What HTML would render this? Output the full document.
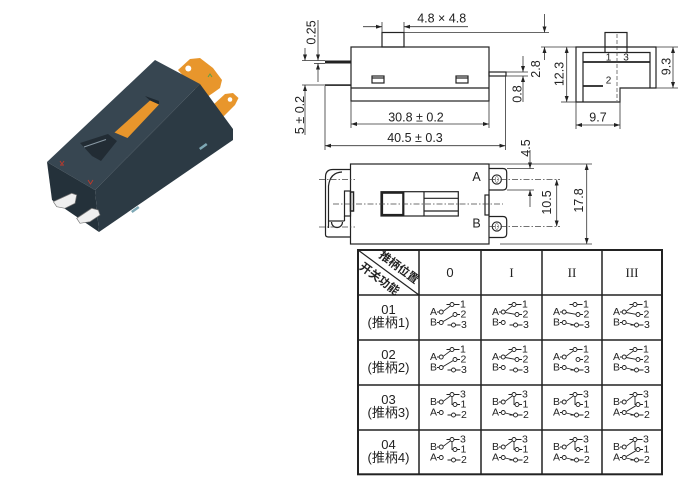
<!DOCTYPE html>
<html><head><meta charset="utf-8">
<style>
html,body{margin:0;padding:0;background:#fff;}
svg{display:block;}
text{font-family:"Liberation Sans","Noto Sans CJK SC",sans-serif;fill:#222;}
.dim{fill:none;stroke:#333;stroke-width:0.8;}
.ol{fill:none;stroke:#222;stroke-width:1.2;}
.dd{fill:none;stroke:#444;stroke-width:0.7;stroke-dasharray:6 2 1.5 2;}
.c text{font-size:10.5px;dominant-baseline:central;}
.c circle{fill:#fff;stroke:#222;stroke-width:0.9;}
.c path{fill:none;stroke:#222;stroke-width:0.9;}
</style></head><body>
<svg width="692" height="482" viewBox="0 0 692 482" xmlns="http://www.w3.org/2000/svg">
<defs>
<marker id="ar" viewBox="0 0 6 4" refX="6" refY="2" markerWidth="6" markerHeight="4" markerUnits="userSpaceOnUse" orient="auto-start-reverse"><path d="M0,0L6,2L0,4z" fill="#222"/></marker>
</defs>
<rect width="692" height="482" fill="#fff"/>

<!-- ===== 3D component ===== -->
<path d="M178,70 L190,59 L200,58 L213,68 L222,80 L220,88 L213,93 L207,97 L196,90Z" fill="#e8962c"/>
<circle cx="188.3" cy="68.5" r="3" fill="#fff"/>
<path d="M213,105 L225,94 L233,93 L238.5,98 L235,105 L227,113 L222,118Z" fill="#e8962c"/>
<circle cx="230" cy="99.5" r="2.3" fill="#fff"/>
<path d="M208,77 l2,-3 l2,3" stroke="#5aa04a" stroke-width="1" fill="none"/>
<polygon points="155,60 200,84 95,190 47,162" fill="#374651"/>
<polygon points="200,84 233,129 233,140 99,232 95,190" fill="#2c3a44"/>
<polygon points="47,162 95,190 99,232 52,200" fill="#24313a"/>
<polygon points="145,96 159,101 159,104.5 150,100.5" fill="#1e2830"/>
<polygon points="150,100.5 159,104.5 127.5,138 114.5,132.5" fill="#e8962c"/>
<polygon points="80,143 108,134 117,141 101,161 92,156" fill="#222c34"/>
<line x1="84" y1="147" x2="106" y2="139.5" stroke="#8a9aa5" stroke-width="1"/>
<polygon points="199,148 206,143 207.5,145 200.5,150" fill="#7ea8b5"/>
<polygon points="131,211 138,206 139.5,208 132.5,213" fill="#7ea8b5"/>
<path d="M60,161 l2,3 l2,-3 M60,165 h4" stroke="#c0392b" stroke-width="0.9" fill="none"/>
<path d="M88,180 l2.5,4 l2.5,-4" stroke="#c0392b" stroke-width="0.9" fill="none"/>
<polygon points="53.3,201.7 71.7,193.3 76.7,195 75,203.3 65,208.3 56.7,206.7" fill="#efefef" stroke="#777" stroke-width="0.7"/>
<polygon points="76.7,218.3 91.7,208.3 98.3,210 100,215 90,221.7 80,223.3" fill="#efefef" stroke="#777" stroke-width="0.7"/>

<!-- ===== Front elevation ===== -->
<g class="ol">
<rect x="351" y="47" width="138" height="54"/>
<line x1="351" y1="88" x2="489" y2="88"/>
<rect x="382" y="32.5" width="22" height="14.5"/>
<rect x="372" y="76" width="12" height="7"/>
<rect x="456" y="76" width="12" height="7"/>
<rect x="489" y="72" width="17" height="4"/>
</g>
<line x1="372" y1="78" x2="384" y2="78" stroke="#222" stroke-width="1.2"/>
<line x1="456" y1="78" x2="468" y2="78" stroke="#222" stroke-width="1.2"/>
<rect x="325" y="60.5" width="26" height="3" fill="#222"/>
<rect x="325" y="84.3" width="26" height="1.6" fill="#222"/>

<g class="dim">
<line x1="382" y1="22" x2="382" y2="32.5"/><line x1="404" y1="22" x2="404" y2="32.5"/>
<line x1="363" y1="26.7" x2="382" y2="26.7" marker-end="url(#ar)"/>
<line x1="468" y1="26.7" x2="404" y2="26.7" marker-end="url(#ar)"/>
<line x1="404" y1="32.5" x2="549" y2="32.5"/>
<line x1="544.5" y1="14" x2="544.5" y2="32.5" marker-end="url(#ar)"/>
<line x1="544.5" y1="60" x2="544.5" y2="47" marker-end="url(#ar)"/>
<line x1="541" y1="47" x2="576" y2="47"/>
<line x1="506" y1="72" x2="528" y2="72"/><line x1="506" y1="76" x2="528" y2="76"/>
<line x1="523" y1="56" x2="523" y2="72" marker-end="url(#ar)"/>
<line x1="523" y1="102" x2="523" y2="76" marker-end="url(#ar)"/>
<line x1="302" y1="60.5" x2="325" y2="60.5"/><line x1="314" y1="63.5" x2="325" y2="63.5"/>
<line x1="318" y1="20" x2="318" y2="60.5" marker-end="url(#ar)"/>
<line x1="318" y1="82" x2="318" y2="63.5" marker-end="url(#ar)"/>
<line x1="302" y1="85" x2="325" y2="85"/>
<line x1="305" y1="48" x2="305" y2="60.5" marker-end="url(#ar)"/>
<line x1="305" y1="135" x2="305" y2="85" marker-end="url(#ar)"/>
<line x1="351" y1="101" x2="351" y2="128"/><line x1="489" y1="101" x2="489" y2="128"/>
<line x1="351" y1="124" x2="489" y2="124" marker-start="url(#ar)" marker-end="url(#ar)"/>
<line x1="325" y1="86" x2="325" y2="150"/><line x1="505.5" y1="76" x2="505.5" y2="150"/>
<line x1="325" y1="145.7" x2="505.5" y2="145.7" marker-start="url(#ar)" marker-end="url(#ar)"/>
</g>
<g font-size="12.5">
<text x="441.7" y="22.5" text-anchor="middle">4.8 × 4.8</text>
<text transform="translate(311.5,32.5) rotate(-90)" text-anchor="middle" dominant-baseline="central">0.25</text>
<text transform="translate(300,115) rotate(-90)" text-anchor="middle" dominant-baseline="central">5 ± 0.2</text>
<text x="416" y="121.5" text-anchor="middle">30.8 ± 0.2</text>
<text x="415" y="142" text-anchor="middle">40.5 ± 0.3</text>
<text transform="translate(536,69) rotate(-90)" text-anchor="middle" dominant-baseline="central">2.8</text>
<text transform="translate(517.5,94) rotate(-90)" text-anchor="middle" dominant-baseline="central">0.8</text>
</g>

<!-- ===== Side view ===== -->
<g class="ol">
<rect x="605" y="32.5" width="22" height="14.5"/>
<path d="M576,47H656V88H620V102H576Z"/>
<path d="M583,102V52.5H650V88"/>
<line x1="605" y1="47" x2="605" y2="52.5"/><line x1="627" y1="47" x2="627" y2="52.5"/>
</g>
<line x1="583" y1="62" x2="650" y2="62" stroke="#222" stroke-width="1.8"/>
<line x1="583" y1="86" x2="603" y2="86" stroke="#222" stroke-width="1.8"/>
<line x1="617" y1="34" x2="617" y2="101" stroke="#444" stroke-width="0.7" stroke-dasharray="4 2"/>
<g font-size="10">
<text x="608.5" y="58" text-anchor="middle" dominant-baseline="central">1</text>
<text x="626" y="58" text-anchor="middle" dominant-baseline="central">3</text>
<text x="608.5" y="81" text-anchor="middle" dominant-baseline="central">2</text>
</g>
<g class="dim">
<line x1="561" y1="102" x2="576" y2="102"/>
<line x1="566.7" y1="47" x2="566.7" y2="102" marker-start="url(#ar)" marker-end="url(#ar)"/>
<line x1="656" y1="47" x2="678" y2="47"/><line x1="656" y1="88" x2="678" y2="88"/>
<line x1="673" y1="47" x2="673" y2="88" marker-start="url(#ar)" marker-end="url(#ar)"/>
<line x1="576" y1="102" x2="576" y2="129"/><line x1="620" y1="88" x2="620" y2="129"/>
<line x1="576" y1="125" x2="620" y2="125" marker-start="url(#ar)" marker-end="url(#ar)"/>
</g>
<g font-size="12.5">
<text transform="translate(559.5,74) rotate(-90)" text-anchor="middle" dominant-baseline="central">12.3</text>
<text transform="translate(666.5,66.5) rotate(-90)" text-anchor="middle" dominant-baseline="central">9.3</text>
<text x="598" y="121.5" text-anchor="middle">9.7</text>
</g>

<!-- ===== Bottom view ===== -->
<g class="ol">
<rect x="350.5" y="164" width="138.5" height="80"/>
<path d="M350.5,169.5H333Q325.5,169.5 325.5,177V234.5Q325.5,237 328.5,237H350.5"/>
<path d="M328.5,228V186Q330,172.5 342,172"/>
<rect x="344.5" y="191" width="6" height="25"/>
<line x1="344.5" y1="216" x2="344.5" y2="221"/>
<line x1="328.5" y1="221" x2="344.5" y2="221"/>
<path d="M331.5,222A5.5,5.5 0 1 0 342.5,222"/>
<path d="M489,168.5H503Q506.7,168.5 506.7,172.5V186Q506.7,190 503,190H489"/>
<path d="M489,216.5H503Q506.7,216.5 506.7,220.5V233.5Q506.7,237.5 503,237.5H489"/>
<rect x="485" y="195" width="4" height="20"/>
<rect x="381" y="191.7" width="77.3" height="24.3"/>
<line x1="424" y1="191.7" x2="424" y2="216"/>
<line x1="424" y1="198.3" x2="458.3" y2="198.3"/>
<line x1="424" y1="211" x2="458.3" y2="211"/>
</g>
<rect x="350.5" y="192" width="3" height="19" fill="none" stroke="#222" stroke-width="1.5"/>
<rect x="382" y="192.7" width="21.3" height="22.3" fill="none" stroke="#222" stroke-width="2.2"/>
<ellipse cx="496.8" cy="179.5" rx="4.6" ry="4.6" fill="none" stroke="#222" stroke-width="1.1"/>
<ellipse cx="496.8" cy="179.5" rx="1.5" ry="3" fill="none" stroke="#555" stroke-width="0.6"/>
<ellipse cx="496.8" cy="226.5" rx="4.6" ry="4.6" fill="none" stroke="#222" stroke-width="1.1"/>
<ellipse cx="496.8" cy="226.5" rx="1.5" ry="3" fill="none" stroke="#555" stroke-width="0.6"/>
<g class="dd">
<line x1="319" y1="179.5" x2="355" y2="179.5"/>
<line x1="319" y1="227" x2="355" y2="227"/>
<line x1="333" y1="204" x2="503" y2="204"/>
<line x1="489" y1="179.5" x2="560" y2="179.5"/>
<line x1="489" y1="226.5" x2="560" y2="226.5"/>
</g>
<g class="dim">
<line x1="507" y1="168.5" x2="534" y2="168.5"/><line x1="507" y1="190" x2="534" y2="190"/>
<line x1="530" y1="150" x2="530" y2="168.5" marker-end="url(#ar)"/>
<line x1="530" y1="207" x2="530" y2="190" marker-end="url(#ar)"/>
<line x1="556.7" y1="179.5" x2="556.7" y2="226.5" marker-start="url(#ar)" marker-end="url(#ar)"/>
<line x1="489" y1="164" x2="592" y2="164"/><line x1="500" y1="244" x2="592" y2="244"/>
<line x1="586.7" y1="164" x2="586.7" y2="244" marker-start="url(#ar)" marker-end="url(#ar)"/>
</g>
<g font-size="12.5">
<text x="476.5" y="177" text-anchor="middle" dominant-baseline="central">A</text>
<text x="476.5" y="223.5" text-anchor="middle" dominant-baseline="central">B</text>
<text transform="translate(526,148) rotate(-90)" text-anchor="middle" dominant-baseline="central">4.5</text>
<text transform="translate(547,202.5) rotate(-90)" text-anchor="middle" dominant-baseline="central">10.5</text>
<text transform="translate(579,200.5) rotate(-90)" text-anchor="middle" dominant-baseline="central">17.8</text>
</g>

<!-- ===== Table ===== -->
<g stroke="#222" fill="none">
<rect x="358" y="250" width="304" height="224.3" stroke-width="2"/>
<g stroke-width="1.5">
<line x1="419" y1="250" x2="419" y2="474.3"/>
<line x1="481" y1="250" x2="481" y2="474.3"/>
<line x1="542" y1="250" x2="542" y2="474.3"/>
<line x1="602" y1="250" x2="602" y2="474.3"/>
<line x1="358" y1="295" x2="662" y2="295"/>
<line x1="358" y1="340" x2="662" y2="340"/>
<line x1="358" y1="385" x2="662" y2="385"/>
<line x1="358" y1="430" x2="662" y2="430"/>
</g>
<line x1="358" y1="250" x2="419" y2="295" stroke-width="1.2"/>
</g>
<text transform="translate(398.5,268) rotate(36.4)" text-anchor="middle" dominant-baseline="central" font-size="11.5" font-weight="bold">推柄位置</text>
<text transform="translate(379,279.5) rotate(36.4)" text-anchor="middle" dominant-baseline="central" font-size="11.5" font-weight="bold">开关功能</text>
<g font-size="13" text-anchor="middle" dominant-baseline="central">
<text x="450" y="272.5">0</text>
<text x="511.5" y="272.5" style="font-family:'Liberation Serif',serif">I</text>
<text x="572" y="272.5" style="font-family:'Liberation Serif',serif">II</text>
<text x="632" y="272.5" style="font-family:'Liberation Serif',serif">III</text>
</g>
<g font-size="13" text-anchor="middle" dominant-baseline="central">
<text x="388.5" y="309.5">01</text><text x="388.5" y="322.5">(推柄1)</text>
<text x="388.5" y="354.5">02</text><text x="388.5" y="367.5">(推柄2)</text>
<text x="388.5" y="399.5">03</text><text x="388.5" y="412.5">(推柄3)</text>
<text x="388.5" y="444.5">04</text><text x="388.5" y="457.5">(推柄4)</text>
</g>

<!-- cells rows 01 -->
<g class="c" transform="translate(419,295)">
<text x="11" y="17">A</text><text x="11" y="27.5">B</text><text x="41" y="9.5">1</text><text x="41.5" y="19.5">2</text><text x="42" y="30">3</text>
<path d="M18,17h2.3M18,27.5h2.3M27.5,9.5h3.5M35,9.5H40.5M38,19.5H41M28.5,30h4M36.5,30H41.5M24.2,16.3L31.5,10.8M24.2,26.5L34.3,20.5"/>
<circle cx="22.2" cy="17" r="2"/><circle cx="22.2" cy="27.5" r="2"/><circle cx="33" cy="9.5" r="2"/><circle cx="36" cy="19.5" r="2"/><circle cx="34.5" cy="30" r="2"/>
</g>
<g class="c" transform="translate(481,295)">
<text x="11" y="17">A</text><text x="11" y="27.5">B</text><text x="41" y="9.5">1</text><text x="41.5" y="19.5">2</text><text x="42" y="30">3</text>
<path d="M18,17h2.3M18,27.5h2.3M27.5,9.5h3.5M35,9.5H40.5M38,19.5H41M28.5,30h4M36.5,30H41.5M24.2,16.3L31.5,10.8M24.2,17.5L34,19.3"/>
<circle cx="22.2" cy="17" r="2"/><circle cx="22.2" cy="27.5" r="2"/><circle cx="33" cy="9.5" r="2"/><circle cx="36" cy="19.5" r="2"/><circle cx="34.5" cy="30" r="2"/>
</g>
<g class="c" transform="translate(542,295)">
<text x="11" y="17">A</text><text x="11" y="27.5">B</text><text x="41" y="9.5">1</text><text x="41.5" y="19.5">2</text><text x="42" y="30">3</text>
<path d="M18,17h2.3M18,27.5h2.3M27.5,9.5h3.5M35,9.5H40.5M38,19.5H41M28.5,30h4M36.5,30H41.5M24.2,17.5L34,19.3M24.2,28L32.5,30"/>
<circle cx="22.2" cy="17" r="2"/><circle cx="22.2" cy="27.5" r="2"/><circle cx="33" cy="9.5" r="2"/><circle cx="36" cy="19.5" r="2"/><circle cx="34.5" cy="30" r="2"/>
</g>
<g class="c" transform="translate(602,295)">
<text x="11" y="17">A</text><text x="11" y="27.5">B</text><text x="41" y="9.5">1</text><text x="41.5" y="19.5">2</text><text x="42" y="30">3</text>
<path d="M18,17h2.3M18,27.5h2.3M27.5,9.5h3.5M35,9.5H40.5M38,19.5H41M28.5,30h4M36.5,30H41.5M24.2,16.3L31.5,10.8M24.2,17.5L34,19.3M24.2,28L32.5,30"/>
<circle cx="22.2" cy="17" r="2"/><circle cx="22.2" cy="27.5" r="2"/><circle cx="33" cy="9.5" r="2"/><circle cx="36" cy="19.5" r="2"/><circle cx="34.5" cy="30" r="2"/>
</g>

<!-- cells rows 02 -->
<g class="c" transform="translate(419,340)">
<text x="11" y="17">A</text><text x="11" y="27.5">B</text><text x="41" y="9.5">1</text><text x="41.5" y="19.5">2</text><text x="42" y="30">3</text>
<path d="M18,17h2.3M18,27.5h2.3M27.5,9.5h3.5M35,9.5H40.5M38,19.5H41M28.5,30h4M36.5,30H41.5M24.2,16.3L31.5,10.8M24.2,26.5L34.3,20.5"/>
<circle cx="22.2" cy="17" r="2"/><circle cx="22.2" cy="27.5" r="2"/><circle cx="33" cy="9.5" r="2"/><circle cx="36" cy="19.5" r="2"/><circle cx="34.5" cy="30" r="2"/>
</g>
<g class="c" transform="translate(481,340)">
<text x="11" y="17">A</text><text x="11" y="27.5">B</text><text x="41" y="9.5">1</text><text x="41.5" y="19.5">2</text><text x="42" y="30">3</text>
<path d="M18,17h2.3M18,27.5h2.3M27.5,9.5h3.5M35,9.5H40.5M38,19.5H41M28.5,30h4M36.5,30H41.5M24.2,16.3L31.5,10.8M24.2,17.5L34,19.3"/>
<circle cx="22.2" cy="17" r="2"/><circle cx="22.2" cy="27.5" r="2"/><circle cx="33" cy="9.5" r="2"/><circle cx="36" cy="19.5" r="2"/><circle cx="34.5" cy="30" r="2"/>
</g>
<g class="c" transform="translate(542,340)">
<text x="11" y="17">A</text><text x="11" y="27.5">B</text><text x="41" y="9.5">1</text><text x="41.5" y="19.5">2</text><text x="42" y="30">3</text>
<path d="M18,17h2.3M18,27.5h2.3M27.5,9.5h3.5M35,9.5H40.5M38,19.5H41M28.5,30h4M36.5,30H41.5M24.2,16.3L31.5,10.8M24.2,28L32.5,30"/>
<circle cx="22.2" cy="17" r="2"/><circle cx="22.2" cy="27.5" r="2"/><circle cx="33" cy="9.5" r="2"/><circle cx="36" cy="19.5" r="2"/><circle cx="34.5" cy="30" r="2"/>
</g>
<g class="c" transform="translate(602,340)">
<text x="11" y="17">A</text><text x="11" y="27.5">B</text><text x="41" y="9.5">1</text><text x="41.5" y="19.5">2</text><text x="42" y="30">3</text>
<path d="M18,17h2.3M18,27.5h2.3M27.5,9.5h3.5M35,9.5H40.5M38,19.5H41M28.5,30h4M36.5,30H41.5M24.2,16.3L31.5,10.8M24.2,17.5L34,19.3M24.2,28L32.5,30"/>
<circle cx="22.2" cy="17" r="2"/><circle cx="22.2" cy="27.5" r="2"/><circle cx="33" cy="9.5" r="2"/><circle cx="36" cy="19.5" r="2"/><circle cx="34.5" cy="30" r="2"/>
</g>

<!-- cells rows 03 -->
<g class="c" transform="translate(419,385)">
<text x="11" y="17">B</text><text x="11" y="27.5">A</text><text x="41" y="9.5">3</text><text x="41.5" y="19.5">1</text><text x="42" y="30">2</text>
<path d="M18,17h2.3M18,27.5h2.3M27.5,9.5h3.5M35,9.5H40.5M38,19.5H41M28.5,30h4M36.5,30H41.5M24.2,16.3L31.5,10.8M33,11.5V19.5H34"/>
<circle cx="22.2" cy="17" r="2"/><circle cx="22.2" cy="27.5" r="2"/><circle cx="33" cy="9.5" r="2"/><circle cx="36" cy="19.5" r="2"/><circle cx="34.5" cy="30" r="2"/>
</g>
<g class="c" transform="translate(481,385)">
<text x="11" y="17">B</text><text x="11" y="27.5">A</text><text x="41" y="9.5">3</text><text x="41.5" y="19.5">1</text><text x="42" y="30">2</text>
<path d="M18,17h2.3M18,27.5h2.3M27.5,9.5h3.5M35,9.5H40.5M38,19.5H41M28.5,30h4M36.5,30H41.5M24.2,16.3L31.5,10.8M33,11.5V19.5H34M24.2,28L32.5,30"/>
<circle cx="22.2" cy="17" r="2"/><circle cx="22.2" cy="27.5" r="2"/><circle cx="33" cy="9.5" r="2"/><circle cx="36" cy="19.5" r="2"/><circle cx="34.5" cy="30" r="2"/>
</g>
<g class="c" transform="translate(542,385)">
<text x="11" y="17">B</text><text x="11" y="27.5">A</text><text x="41" y="9.5">3</text><text x="41.5" y="19.5">1</text><text x="42" y="30">2</text>
<path d="M18,17h2.3M18,27.5h2.3M27.5,9.5h3.5M35,9.5H40.5M38,19.5H41M28.5,30h4M36.5,30H41.5M24.2,16.3L31.5,10.8M33,11.5V19.5H34M24.2,28L32.5,30"/>
<circle cx="22.2" cy="17" r="2"/><circle cx="22.2" cy="27.5" r="2"/><circle cx="33" cy="9.5" r="2"/><circle cx="36" cy="19.5" r="2"/><circle cx="34.5" cy="30" r="2"/>
</g>
<g class="c" transform="translate(602,385)">
<text x="11" y="17">B</text><text x="11" y="27.5">A</text><text x="41" y="9.5">3</text><text x="41.5" y="19.5">1</text><text x="42" y="30">2</text>
<path d="M18,17h2.3M18,27.5h2.3M27.5,9.5h3.5M35,9.5H40.5M38,19.5H41M28.5,30h4M36.5,30H41.5M24.2,16.3L31.5,10.8M33,11.5V19.5H34M24.2,26.5L34.3,20.5M24.2,28L32.5,30"/>
<circle cx="22.2" cy="17" r="2"/><circle cx="22.2" cy="27.5" r="2"/><circle cx="33" cy="9.5" r="2"/><circle cx="36" cy="19.5" r="2"/><circle cx="34.5" cy="30" r="2"/>
</g>

<!-- cells rows 04 -->
<g class="c" transform="translate(419,430)">
<text x="11" y="17">B</text><text x="11" y="27.5">A</text><text x="41" y="9.5">3</text><text x="41.5" y="19.5">1</text><text x="42" y="30">2</text>
<path d="M18,17h2.3M18,27.5h2.3M27.5,9.5h3.5M35,9.5H40.5M38,19.5H41M28.5,30h4M36.5,30H41.5M24.2,16.3L31.5,10.8M33,11.5V19.5H34"/>
<circle cx="22.2" cy="17" r="2"/><circle cx="22.2" cy="27.5" r="2"/><circle cx="33" cy="9.5" r="2"/><circle cx="36" cy="19.5" r="2"/><circle cx="34.5" cy="30" r="2"/>
</g>
<g class="c" transform="translate(481,430)">
<text x="11" y="17">B</text><text x="11" y="27.5">A</text><text x="41" y="9.5">3</text><text x="41.5" y="19.5">1</text><text x="42" y="30">2</text>
<path d="M18,17h2.3M18,27.5h2.3M27.5,9.5h3.5M35,9.5H40.5M38,19.5H41M28.5,30h4M36.5,30H41.5M24.2,16.3L31.5,10.8M33,11.5V19.5H34M24.2,28L32.5,30"/>
<circle cx="22.2" cy="17" r="2"/><circle cx="22.2" cy="27.5" r="2"/><circle cx="33" cy="9.5" r="2"/><circle cx="36" cy="19.5" r="2"/><circle cx="34.5" cy="30" r="2"/>
</g>
<g class="c" transform="translate(542,430)">
<text x="11" y="17">B</text><text x="11" y="27.5">A</text><text x="41" y="9.5">3</text><text x="41.5" y="19.5">1</text><text x="42" y="30">2</text>
<path d="M18,17h2.3M18,27.5h2.3M27.5,9.5h3.5M35,9.5H40.5M38,19.5H41M28.5,30h4M36.5,30H41.5M24.2,16.3L31.5,10.8M33,11.5V19.5H34M24.2,28L32.5,30"/>
<circle cx="22.2" cy="17" r="2"/><circle cx="22.2" cy="27.5" r="2"/><circle cx="33" cy="9.5" r="2"/><circle cx="36" cy="19.5" r="2"/><circle cx="34.5" cy="30" r="2"/>
</g>
<g class="c" transform="translate(602,430)">
<text x="11" y="17">B</text><text x="11" y="27.5">A</text><text x="41" y="9.5">3</text><text x="41.5" y="19.5">1</text><text x="42" y="30">2</text>
<path d="M18,17h2.3M18,27.5h2.3M27.5,9.5h3.5M35,9.5H40.5M38,19.5H41M28.5,30h4M36.5,30H41.5M24.2,16.3L31.5,10.8M33,11.5V19.5H34M24.2,26.5L34.3,20.5M24.2,28L32.5,30"/>
<circle cx="22.2" cy="17" r="2"/><circle cx="22.2" cy="27.5" r="2"/><circle cx="33" cy="9.5" r="2"/><circle cx="36" cy="19.5" r="2"/><circle cx="34.5" cy="30" r="2"/>
</g>
</svg>
</body></html>
